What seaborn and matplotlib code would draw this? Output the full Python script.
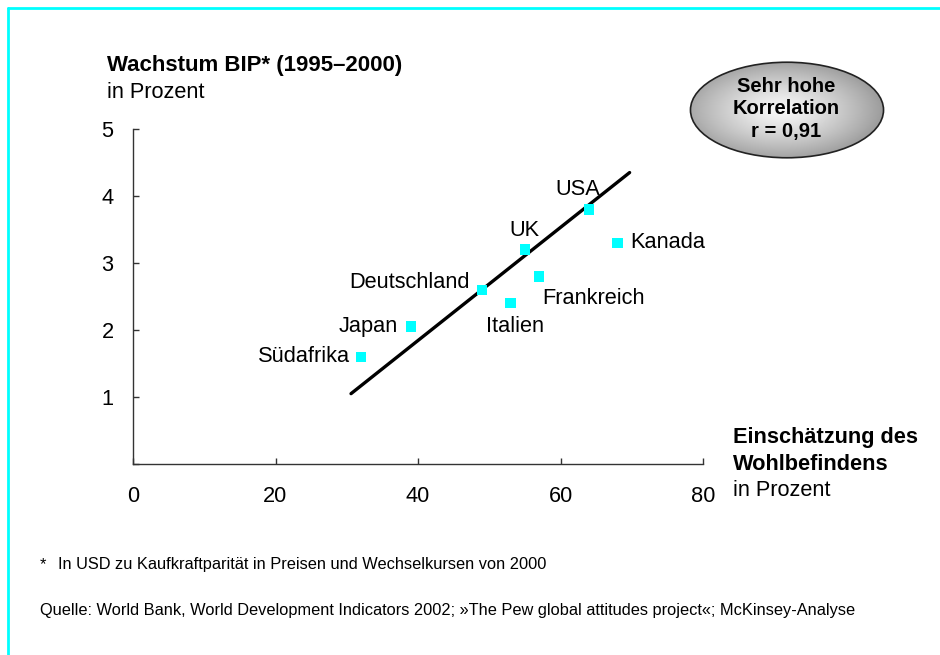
import numpy as np
import pandas as pd
import seaborn as sns
import matplotlib.pyplot as plt
from matplotlib.patches import Ellipse
from matplotlib.lines import Line2D

countries = ['Südafrika', 'Japan', 'Deutschland', 'Italien', 'UK', 'Frankreich', 'USA', 'Kanada']
wohlbefinden = [32, 39, 49, 53, 55, 57, 64, 68]
wachstum = [1.6, 2.05, 2.6, 2.4, 3.2, 2.8, 3.8, 3.3]
trend_x = [30.6, 69.7]
trend_y = [1.05, 4.35]
x_ticks = [0, 20, 40, 60, 80]
y_ticks = [1, 2, 3, 4, 5]

# label offsets in points (dx, dy, ha, va)
offsets = {
    'Südafrika': (-8, 0, 'right', 'center'),
    'Japan': (-9, 0, 'right', 'center'),
    'Deutschland': (-9, 5, 'right', 'center'),
    'Italien': (3, -17, 'center', 'center'),
    'UK': (0, 14, 'center', 'center'),
    'Frankreich': (2, -16, 'left', 'center'),
    'USA': (-8, 14, 'center', 'center'),
    'Kanada': (9, 0, 'left', 'center'),
}

sns.set_theme(style='white')
plt.rcParams['font.family'] = ['Liberation Sans', 'DejaVu Sans']
plt.rcParams['text.color'] = 'black'
fs = 15.7

df = pd.DataFrame({'land': countries, 'x': wohlbefinden, 'y': wachstum})

fig = plt.figure(figsize=(9.4, 6.55), dpi=100)
ax = fig.add_axes([133/940, 1 - 464/655, (703-133)/940, (464-129)/655])

sns.lineplot(x=trend_x, y=trend_y, ax=ax, color='black', linewidth=2.4)
sns.scatterplot(data=df, x='x', y='y', ax=ax, marker='s', s=58, color='#00ffff',
                edgecolor='none', linewidth=0, zorder=3)

for _, r in df.iterrows():
    dx, dy, ha, va = offsets[r['land']]
    ax.annotate(r['land'], (r['x'], r['y']), xytext=(dx, dy), textcoords='offset points',
                ha=ha, va=va, fontsize=fs, color='black')

ax.set_xlim(0, 80)
ax.set_ylim(0, 5)
ax.set_xticks(x_ticks)
ax.set_yticks(y_ticks + [0])
ax.set_yticklabels([str(t) for t in y_ticks] + [''])
ax.set_xlabel('')
ax.set_ylabel('')
ax.tick_params(axis='both', direction='in', length=4, width=1, color='#333333',
               labelsize=fs, labelcolor='black', bottom=True, left=True)
ax.tick_params(axis='x', pad=16)
ax.tick_params(axis='y', pad=14)
for s in ['top', 'right']:
    ax.spines[s].set_visible(False)
for s in ['left', 'bottom']:
    ax.spines[s].set_color('#333333')
    ax.spines[s].set_linewidth(1)
ax.set_facecolor('none')

# titles
fig.text(107/940, 1 - 66/655, 'Wachstum BIP* (1995–2000)', fontsize=16, fontweight='bold', va='center')
fig.text(107/940, 1 - 92/655, 'in Prozent', fontsize=fs, va='center')
fig.text(733/940, 1 - 438/655, 'Einschätzung des', fontsize=fs, fontweight='bold', va='center')
fig.text(733/940, 1 - 464/655, 'Wohlbefindens', fontsize=fs, fontweight='bold', va='center')
fig.text(733/940, 1 - 491/655, 'in Prozent', fontsize=fs, va='center')

# ellipse with gradient
eax = fig.add_axes([689/940, 1 - 159/655, 196/940, 98/655])
eax.set_xlim(0, 1)
eax.set_ylim(0, 1)
eax.axis('off')
gx, gy = np.meshgrid(np.linspace(0, 1, 200), np.linspace(0, 1, 100))
rr = np.sqrt(((gx - 0.47) / 0.5) ** 2 + ((gy - 0.5) / 0.5) ** 2)
grad = np.clip(0.97 - 0.34 * rr ** 1.3, 0, 1)
im = eax.imshow(grad, extent=[0, 1, 0, 1], cmap='gray', vmin=0, vmax=1, aspect='auto')
ell = Ellipse((0.5, 0.5), 0.985, 0.975, transform=eax.transAxes, facecolor='none',
              edgecolor='#222222', linewidth=1.2)
eax.add_patch(ell)
im.set_clip_path(ell)
for txt, yy in [('Sehr hohe', 86), ('Korrelation', 109), ('r = 0,91', 132)]:
    fig.text(786/940, 1 - yy/655, txt, fontsize=14.5, fontweight='bold', ha='center', va='center')

# footnotes
ffam = ['Liberation Sans Narrow', 'Liberation Sans', 'DejaVu Sans']
fig.text(40/940, 1 - 565/655, '*', fontsize=11.8, family=ffam, va='center')
fig.text(58/940, 1 - 565/655, 'In USD zu Kaufkraftparität in Preisen und Wechselkursen von 2000',
         fontsize=11.8, family=ffam, va='center')
fig.text(40/940, 1 - 610/655,
         'Quelle: World Bank, World Development Indicators 2002; »The Pew global attitudes project«; McKinsey-Analyse',
         fontsize=11.8, family=ffam, va='center')

# cyan frame
fig.add_artist(Line2D([8/940, 8/940], [0, 1 - 8/655], color='#00ffff', linewidth=2))
fig.add_artist(Line2D([8/940, 1], [1 - 8/655, 1 - 8/655], color='#00ffff', linewidth=2))

fig.savefig('out.png', dpi=100)
